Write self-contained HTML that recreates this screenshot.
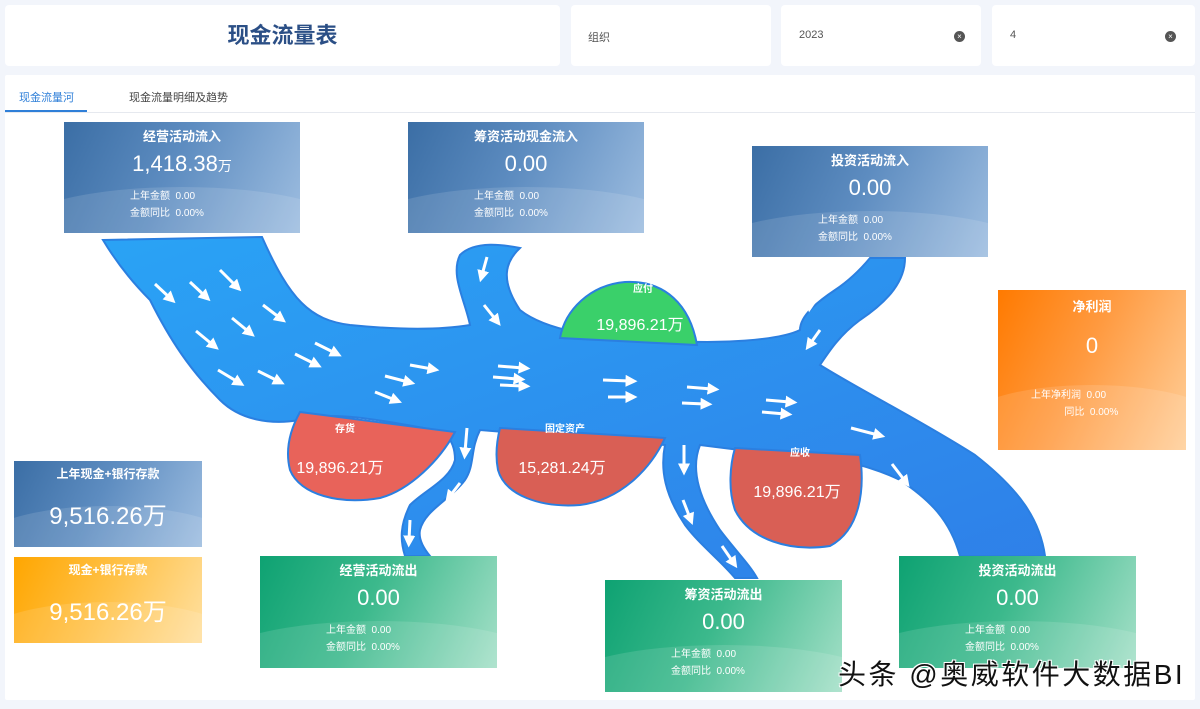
<!DOCTYPE html>
<html><head><meta charset="utf-8"><style>
*{margin:0;padding:0;box-sizing:border-box}
body{width:1200px;height:709px;background:#f2f5fb;position:relative;overflow:hidden;font-family:"Liberation Sans","Noto Sans CJK SC",sans-serif}
.box{position:absolute;background:#fff;border-radius:4px}
.abs{position:absolute}
.card{position:absolute;color:#fff;text-align:center;overflow:hidden}
.card .t{font-size:13px;font-weight:bold;margin-top:4px}
.card .v{font-size:22px;margin-top:6px}
.card .s{font-size:10px;text-align:left;line-height:17px}
.blue{background:linear-gradient(115deg,#3b6ea5 0%,#5d8cc0 45%,#9dbde0 100%)}
.green{background:linear-gradient(115deg,#0ea272 0%,#3cb98c 45%,#a5e0c8 100%)}
.orange{background:linear-gradient(115deg,#ff7a00 0%,#ff9a40 45%,#ffcf9a 100%)}
.yellow{background:linear-gradient(115deg,#ffa600 0%,#ffc24a 50%,#ffe0a0 100%)}
.wave{position:absolute;left:-20%;width:140%;height:80px;border-radius:50%;background:rgba(255,255,255,.12)}
.x{position:absolute;width:11px;height:11px;border-radius:50%;background:#555;color:#fff;font-size:8px;line-height:11px;text-align:center}
</style></head><body>
<div class="box" style="left:5px;top:5px;width:555px;height:61px"><div style="text-align:center;font-size:22px;font-weight:bold;color:#2b4f86;line-height:61px">现金流量表</div></div>
<div class="box" style="left:571px;top:5px;width:200px;height:61px"><span class="abs" style="left:17px;top:24px;font-size:11px;color:#555">组织</span></div>
<div class="box" style="left:781px;top:5px;width:200px;height:61px"><span class="abs" style="left:18px;top:24px;font-size:11px;color:#555">2023</span><div class="x" style="left:173px;top:26px">×</div></div>
<div class="box" style="left:992px;top:5px;width:203px;height:61px"><span class="abs" style="left:18px;top:24px;font-size:11px;color:#555">4</span><div class="x" style="left:173px;top:26px">×</div></div>
<div class="box" style="left:5px;top:75px;width:1190px;height:625px;border-radius:2px"></div>
<div class="abs" style="left:5px;top:112px;width:1190px;height:1px;background:#e6e9ef"></div>
<div class="abs" style="left:5px;top:110px;width:82px;height:2px;background:#2f7fd8"></div>
<div class="abs" style="left:19px;top:89px;font-size:11px;color:#2f7fd8">现金流量河</div>
<div class="abs" style="left:129px;top:89px;font-size:11px;color:#444">现金流量明细及趋势</div>

<svg class="abs" style="left:0;top:0" width="1200" height="709">
<defs>
<linearGradient id="rv" x1="0" y1="0" x2="1" y2="1"><stop offset="0" stop-color="#2aa3f5"/><stop offset="1" stop-color="#2f7fe8"/></linearGradient>
<marker id="ah" markerWidth="4" markerHeight="4" refX="1.5" refY="2" orient="auto"><path d="M0,0 L4,2 L0,4z" fill="#fff"/></marker>
</defs>
<g fill="url(#rv)" stroke="#2b7fe0" stroke-width="2">
<path d="M103,240 L262,237 C290,300 310,320 350,325 C400,330 440,330 470,325 C465,300 450,275 460,255 C475,240 505,245 520,248 C505,262 500,280 520,310 C545,330 600,340 660,340 C720,345 780,340 800,330 C800,315 820,300 835,290 C850,280 860,270 870,258 L905,258 C905,280 890,300 860,320 C840,335 830,350 820,365 C860,390 920,420 975,455 C1020,490 1040,520 1045,556 L960,556 C950,520 930,500 900,480 C880,470 860,465 840,460 L740,450 L700,445 C690,470 700,500 720,530 C735,550 750,565 757,578 L735,578 C720,560 700,545 685,525 C665,495 660,470 665,445 L480,430 C470,450 475,465 465,480 C450,500 425,510 420,530 C418,540 425,550 430,556 L405,556 C400,540 400,525 410,505 C425,490 450,480 455,460 C455,445 450,440 445,432 C380,420 330,410 300,420 C270,425 240,420 220,400 C190,370 170,340 150,300 C130,280 115,260 103,240Z"/>
</g>
<path d="M300,412 L455,432 C440,460 410,490 380,498 C340,505 300,495 290,470 C285,450 290,430 300,412Z" fill="#e8635a" stroke="#2b7fe0" stroke-width="2"/>
<path d="M500,428 L665,438 C650,470 620,500 580,505 C540,508 505,495 498,470 C495,455 497,440 500,428Z" fill="#d95f55" stroke="#2b7fe0" stroke-width="2"/>
<path d="M735,448 L860,455 C865,490 860,530 830,546 C790,552 750,540 735,510 C728,490 730,465 735,448Z" fill="#d95f55" stroke="#2b7fe0" stroke-width="2"/>
<path d="M560,338 C565,310 590,285 625,282 C665,280 690,305 697,345 Z" fill="#3ad06a" stroke="#2b7fe0" stroke-width="2"/>
<g stroke="#fff" stroke-width="3" marker-end="url(#ah)">
<line x1="155" y1="284" x2="170" y2="298"/><line x1="190" y1="282" x2="205" y2="296"/><line x1="220" y1="270" x2="236" y2="286"/>
<line x1="196" y1="331" x2="213" y2="345"/><line x1="232" y1="318" x2="249" y2="332"/><line x1="263" y1="305" x2="280" y2="318"/>
<line x1="258" y1="371" x2="278" y2="381"/><line x1="218" y1="370" x2="238" y2="382"/><line x1="315" y1="343" x2="335" y2="353"/>
<line x1="295" y1="354" x2="315" y2="364"/><line x1="375" y1="392" x2="395" y2="400"/><line x1="385" y1="376" x2="408" y2="382"/>
<line x1="410" y1="365" x2="432" y2="369"/><line x1="493" y1="377" x2="518" y2="379"/><line x1="498" y1="366" x2="523" y2="368"/>
<line x1="500" y1="385" x2="523" y2="386"/><line x1="603" y1="380" x2="630" y2="381"/><line x1="608" y1="397" x2="630" y2="397"/>
<line x1="687" y1="387" x2="712" y2="389"/><line x1="682" y1="403" x2="705" y2="404"/><line x1="766" y1="400" x2="790" y2="402"/>
<line x1="762" y1="412" x2="785" y2="414"/><line x1="851" y1="428" x2="878" y2="435"/><line x1="892" y1="464" x2="905" y2="481"/>
<line x1="926" y1="520" x2="937" y2="537"/><line x1="487" y1="257" x2="482" y2="275"/><line x1="484" y1="305" x2="496" y2="320"/>
<line x1="846" y1="263" x2="832" y2="276"/><line x1="812" y1="290" x2="810" y2="305"/><line x1="820" y1="330" x2="810" y2="344"/>
<line x1="467" y1="428" x2="465" y2="452"/><line x1="460" y1="483" x2="450" y2="496"/><line x1="410" y1="520" x2="409" y2="540"/>
<line x1="684" y1="445" x2="684" y2="468"/><line x1="683" y1="500" x2="690" y2="518"/><line x1="722" y1="546" x2="733" y2="562"/>
</g>
<g fill="#fff" font-family="Liberation Sans,Noto Sans CJK SC,sans-serif" text-anchor="middle">
<text x="345" y="432" font-size="10" font-weight="bold">存货</text>
<text x="340" y="473" font-size="16">19,896.21万</text>
<text x="565" y="432" font-size="10" font-weight="bold">固定资产</text>
<text x="562" y="473" font-size="16">15,281.24万</text>
<text x="800" y="456" font-size="10" font-weight="bold">应收</text>
<text x="797" y="497" font-size="16">19,896.21万</text>
<text x="643" y="292" font-size="10" font-weight="bold">应付</text>
<text x="640" y="330" font-size="16">19,896.21万</text>
</g>
</svg>

<div class="card blue" style="left:64px;top:122px;width:236px;height:111px"><div class="wave" style="top:65px"></div><div class="t">经营活动流入</div><div class="v">1,418.38<span style="font-size:14px">万</span></div><div class="s" style="margin:11px 0 0 66px">上年金额&nbsp;&nbsp;0.00<br>金额同比&nbsp;&nbsp;0.00%</div></div>
<div class="card blue" style="left:408px;top:122px;width:236px;height:111px"><div class="wave" style="top:65px"></div><div class="t">筹资活动现金流入</div><div class="v">0.00</div><div class="s" style="margin:11px 0 0 66px">上年金额&nbsp;&nbsp;0.00<br>金额同比&nbsp;&nbsp;0.00%</div></div>
<div class="card blue" style="left:752px;top:146px;width:236px;height:111px"><div class="wave" style="top:65px"></div><div class="t">投资活动流入</div><div class="v">0.00</div><div class="s" style="margin:11px 0 0 66px">上年金额&nbsp;&nbsp;0.00<br>金额同比&nbsp;&nbsp;0.00%</div></div>
<div class="card orange" style="left:998px;top:290px;width:188px;height:160px"><div class="wave" style="top:95px"></div><div class="t" style="margin-top:6px">净利润</div><div class="v" style="margin-top:18px">0</div><div class="s" style="margin:28px 0 0 33px">上年净利润&nbsp;&nbsp;0.00<br>&nbsp;&nbsp;&nbsp;&nbsp;&nbsp;&nbsp;&nbsp;&nbsp;&nbsp;&nbsp;&nbsp;&nbsp;同比&nbsp;&nbsp;0.00%</div></div>
<div class="card blue" style="left:14px;top:461px;width:188px;height:86px"><div class="wave" style="top:45px"></div><div class="t" style="font-size:12px">上年现金+银行存款</div><div class="v" style="margin-top:14px;font-size:24px">9,516.26万</div></div>
<div class="card yellow" style="left:14px;top:557px;width:188px;height:86px"><div class="wave" style="top:45px"></div><div class="t" style="font-size:12px">现金+银行存款</div><div class="v" style="margin-top:14px;font-size:24px">9,516.26万</div></div>
<div class="card green" style="left:260px;top:556px;width:237px;height:112px"><div class="wave" style="top:65px"></div><div class="t">经营活动流出</div><div class="v">0.00</div><div class="s" style="margin:11px 0 0 66px">上年金额&nbsp;&nbsp;0.00<br>金额同比&nbsp;&nbsp;0.00%</div></div>
<div class="card green" style="left:605px;top:580px;width:237px;height:112px"><div class="wave" style="top:65px"></div><div class="t">筹资活动流出</div><div class="v">0.00</div><div class="s" style="margin:11px 0 0 66px">上年金额&nbsp;&nbsp;0.00<br>金额同比&nbsp;&nbsp;0.00%</div></div>
<div class="card green" style="left:899px;top:556px;width:237px;height:112px"><div class="wave" style="top:65px"></div><div class="t">投资活动流出</div><div class="v">0.00</div><div class="s" style="margin:11px 0 0 66px">上年金额&nbsp;&nbsp;0.00<br>金额同比&nbsp;&nbsp;0.00%</div></div>
<div class="abs" style="left:838px;top:653px;font-size:28px;color:#111;white-space:nowrap;letter-spacing:2.5px;text-shadow:-1px -1px 0 #fff,1px -1px 0 #fff,-1px 1px 0 #fff,1px 1px 0 #fff">头条 @奥威软件大数据BI</div>
</body></html>
